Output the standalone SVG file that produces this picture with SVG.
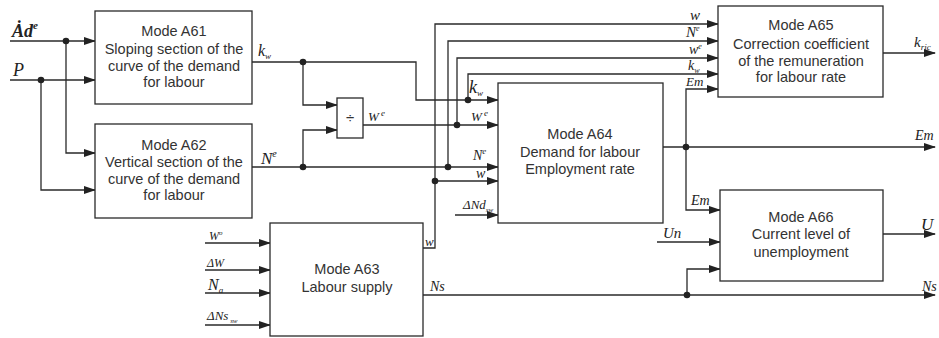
<svg xmlns="http://www.w3.org/2000/svg" width="939" height="338" viewBox="0 0 939 338">
<style>
.box{fill:#fff;stroke:#2a2a2a;stroke-width:1.3}
.w{fill:none;stroke:#2a2a2a;stroke-width:1.3}
.t{font-family:"Liberation Sans",Arial,sans-serif;font-size:14.5px;fill:#333;text-anchor:middle}
.l{font-family:"Liberation Serif","Times New Roman",serif;font-style:italic;font-size:15px;fill:#222}
.s{font-size:9px}
.d{fill:#222}
</style>
<defs>
<marker id="a" markerUnits="userSpaceOnUse" markerWidth="12" markerHeight="8" refX="11" refY="4" orient="auto">
<path d="M0,0 L12,4 L0,8 z" fill="#222"/>
</marker>
</defs>
<rect width="939" height="338" fill="#fff"/>
<g id="connectors">
<path class="w" d="M10,41 H95" marker-end="url(#a)"/>
<path class="w" d="M10,80 H95" marker-end="url(#a)"/>
<path class="w" d="M66,41 V153 H95" marker-end="url(#a)"/>
<path class="w" d="M41,80 V190 H95" marker-end="url(#a)"/>
<path class="w" d="M252,62 H416 V100 H498" marker-end="url(#a)"/>
<path class="w" d="M303,62 V105 H337" marker-end="url(#a)"/>
<path class="w" d="M468,100 V74 H718" marker-end="url(#a)"/>
<path class="w" d="M252,167 H498" marker-end="url(#a)"/>
<path class="w" d="M303,167 V130 H337" marker-end="url(#a)"/>
<path class="w" d="M448,167 V41 H718" marker-end="url(#a)"/>
<path class="w" d="M363,125 H498" marker-end="url(#a)"/>
<path class="w" d="M457,125 V58 H718" marker-end="url(#a)"/>
<path class="w" d="M423,248 H435 V24 H718" marker-end="url(#a)"/>
<path class="w" d="M435,181 H498" marker-end="url(#a)"/>
<path class="w" d="M455,215 H498" marker-end="url(#a)"/>
<path class="w" d="M663,147 H935" marker-end="url(#a)"/>
<path class="w" d="M686,147 V89 H718" marker-end="url(#a)"/>
<path class="w" d="M686,147 V210 H720" marker-end="url(#a)"/>
<path class="w" d="M883,53 H935" marker-end="url(#a)"/>
<path class="w" d="M657,242 H720" marker-end="url(#a)"/>
<path class="w" d="M883,234 H935" marker-end="url(#a)"/>
<path class="w" d="M423,295 H935" marker-end="url(#a)"/>
<path class="w" d="M687,295 V269 H720" marker-end="url(#a)"/>
<path class="w" d="M205,243 H270" marker-end="url(#a)"/>
<path class="w" d="M205,270 H270" marker-end="url(#a)"/>
<path class="w" d="M205,293 H270" marker-end="url(#a)"/>
<path class="w" d="M205,325 H270" marker-end="url(#a)"/>
<circle class="d" cx="66" cy="41" r="3.3"/>
<circle class="d" cx="41" cy="80" r="3.3"/>
<circle class="d" cx="303" cy="62" r="3.3"/>
<circle class="d" cx="303" cy="167" r="3.3"/>
<circle class="d" cx="468" cy="100" r="3.3"/>
<circle class="d" cx="457" cy="125" r="3.3"/>
<circle class="d" cx="448" cy="167" r="3.3"/>
<circle class="d" cx="435" cy="181" r="3.3"/>
<circle class="d" cx="686" cy="147" r="3.3"/>
<circle class="d" cx="687" cy="295" r="3.3"/>
</g>
<g id="labels">
<text class="l" x="12" y="37" style="font-size:18px;font-weight:bold">Ȧd<tspan class="s" dy="-8" style="font-size:11px">e</tspan></text>
<text class="l" x="13" y="76" style="font-size:18px">P</text>
<text class="l" x="258" y="56" style="font-size:16px">k<tspan class="s" dy="3">w</tspan></text>
<text class="l" x="261" y="164" style="font-size:17px">N<tspan class="s" dy="-7" style="font-size:10px">e</tspan></text>
<text class="l" x="368" y="121" style="font-size:13px">W<tspan class="s" dy="-5"> e</tspan></text>
<text class="l" x="469" y="93" style="font-size:18px">k<tspan class="s" dy="3">w</tspan></text>
<text class="l" x="471" y="121" style="font-size:13px">W<tspan class="s" dy="-5"> e</tspan></text>
<text class="l" x="473" y="160" style="font-size:14px">N<tspan class="s" dy="-6">e</tspan></text>
<text class="l" x="476" y="178" style="font-size:14px">w</text>
<text class="l" x="463" y="209" style="font-size:13px">ΔNd<tspan class="s" dy="3" style="font-size:7px">sw</tspan></text>
<text class="l" x="425" y="246" style="font-size:13px">w</text>
<text class="l" x="209" y="240" style="font-size:12px">W<tspan class="s" dy="-5" style="font-size:7px">o</tspan></text>
<text class="l" x="207" y="267" style="font-size:12px">ΔW</text>
<text class="l" x="208" y="290" style="font-size:16px">N<tspan class="s" dy="3">a</tspan></text>
<text class="l" x="207" y="320" style="font-size:13px">ΔNs<tspan class="s" dy="3" style="font-size:7px"> sw</tspan></text>
<text class="l" x="430" y="291" style="font-size:14px">Ns</text>
<text class="l" x="690" y="20" style="font-size:15px">w</text>
<text class="l" x="686" y="37" style="font-size:15px">N<tspan class="s" dy="-6" style="font-size:8px">e</tspan></text>
<text class="l" x="689" y="54" style="font-size:14px">w<tspan class="s" dy="-5" style="font-size:8px">e</tspan></text>
<text class="l" x="688" y="70" style="font-size:14px">k<tspan class="s" dy="3" style="font-size:8px">w</tspan></text>
<text class="l" x="686" y="86" style="font-size:13px">Em</text>
<text class="l" x="914" y="47" style="font-size:15px">k<tspan class="s" dy="3">ric</tspan></text>
<text class="l" x="915" y="140" style="font-size:14px">Em</text>
<text class="l" x="921" y="230" style="font-size:17px">U</text>
<text class="l" x="922" y="291" style="font-size:14px">Ns</text>
<text class="l" x="663" y="238" style="font-size:15px">Un</text>
<text class="l" x="691" y="205" style="font-size:14px">Em</text>
</g>
<g id="A61">
<rect class="box" x="95" y="11" width="157" height="93"/>
<text class="t" x="174" y="36">Mode A61</text>
<text class="t" x="174" y="54">Sloping section of the</text>
<text class="t" x="174" y="71">curve of the demand</text>
<text class="t" x="174" y="87">for labour</text>
</g>
<g id="A62">
<rect class="box" x="95" y="124" width="157" height="94"/>
<text class="t" x="174" y="150">Mode A62</text>
<text class="t" x="174" y="167">Vertical section of the</text>
<text class="t" x="174" y="184">curve of the demand</text>
<text class="t" x="174" y="200">for labour</text>
</g>
<g id="divide">
<rect class="box" x="337" y="98" width="26" height="40"/>
<text class="t" x="350" y="123" style="font-size:15px">÷</text>
</g>
<g id="A63">
<rect class="box" x="270" y="223" width="153" height="113"/>
<text class="t" x="347" y="274">Mode A63</text>
<text class="t" x="347" y="292">Labour supply</text>
</g>
<g id="A64">
<rect class="box" x="498" y="83" width="165" height="140"/>
<text class="t" x="580" y="139">Mode A64</text>
<text class="t" x="580" y="157">Demand for labour</text>
<text class="t" x="580" y="174">Employment rate</text>
</g>
<g id="A65">
<rect class="box" x="718" y="6" width="165" height="91"/>
<text class="t" x="801" y="30">Mode A65</text>
<text class="t" x="801" y="49">Correction coefficient</text>
<text class="t" x="801" y="66">of the remuneration</text>
<text class="t" x="801" y="82">for labour rate</text>
</g>
<g id="A66">
<rect class="box" x="720" y="190" width="163" height="91"/>
<text class="t" x="801" y="222">Mode A66</text>
<text class="t" x="801" y="239">Current level of</text>
<text class="t" x="801" y="257">unemployment</text>
</g>
</svg>
